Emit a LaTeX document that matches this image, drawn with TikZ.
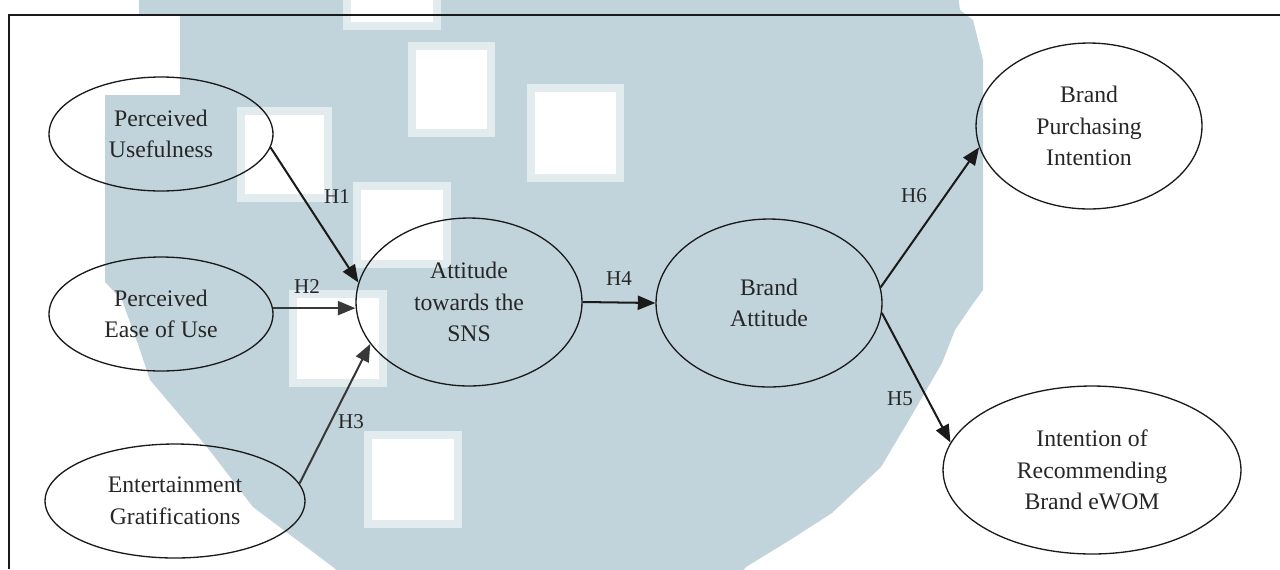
\documentclass[tikz,border=0pt]{standalone}
\usepackage{fontspec}
\setmainfont{Liberation Serif}
\usetikzlibrary{arrows.meta,shapes.geometric}
\definecolor{wm}{HTML}{C2D4DB}
\definecolor{wmedge}{HTML}{E2EBEE}
\definecolor{ink}{HTML}{1A1A1A}
\definecolor{textink}{HTML}{262626}
\definecolor{grayink}{HTML}{383838}
\tikzset{
  construct/.style={ellipse, draw=ink, line width=0.75pt, inner sep=0pt, align=center,
    text=textink, font=\fontsize{13.5}{18}\selectfont},
  hyp/.style={-{Triangle[length=10pt,width=8pt]}, line width=1.15pt, draw=ink, fill=ink},
  hypgray/.style={hyp, draw=grayink, fill=grayink},
  hlabel/.style={font=\fontsize{12}{14}\selectfont, text=textink, inner sep=0pt},
}
\begin{document}
\begin{tikzpicture}[x=0.02cm,y=-0.02cm]
\useasboundingbox (0,0) rectangle (1280,569);
% watermark
\begin{scope}
  \clip (0,0) rectangle (1280,569);
  \fill[wm] (139,-5) -- (958,-5) -- (960,10) -- (973,20) -- (983,60) -- (983,290)
    -- (972,305) -- (955,330) -- (942,363) -- (909,420) -- (881,467) -- (832,513)
    -- (790,540) -- (746,567) -- (740,575) -- (342,575) -- (333,567) -- (253,507)
    -- (207,447) -- (150,380) -- (139,347) -- (122,300) -- (105,282) -- (105,95)
    -- (180,95) -- (180,15) -- (139,15) -- cycle;
  \foreach \a/\b/\c/\d in {343/-10/441/30, 408/42/495/137, 527/84/624/182, 237/107/332/202,
      353/182/451/268, 289/290/387/387, 364/431/462/528} {
    \fill[wmedge] (\a,\b) rectangle (\c,\d);
    \fill[white] (\a+8,\b+8) rectangle (\c-8,\d-8);
  }
\end{scope}
% frame
\draw[ink, line width=0.9pt] (9,569) -- (9,15) -- (1280,15);
% constructs
\node[construct, minimum width=4.48cm, minimum height=2.28cm] (pu) at (161,134) {Perceived\\Usefulness};
\node[construct, minimum width=4.48cm, minimum height=2.28cm] (pe) at (161,314) {Perceived\\Ease of Use};
\node[construct, minimum width=5.2cm, minimum height=2.28cm] (ent) at (175,501) {Entertainment\\Gratifications};
\node[construct, minimum width=4.52cm, minimum height=3.36cm] (att) at (469,302) {Attitude\\towards the\\SNS};
\node[construct, minimum width=4.52cm, minimum height=3.36cm] (ba) at (769,303) {Brand\\Attitude};
\node[construct, minimum width=4.52cm, minimum height=3.32cm] (bp) at (1089,126) {Brand\\Purchasing\\Intention};
\node[construct, minimum width=5.96cm, minimum height=3.36cm] (int) at (1092,470) {Intention of\\Recommending\\Brand eWOM};
% hypotheses
\draw[hyp] (pu.-7) -- (att.170);
\draw[hypgray] (pe.3) -- (pe.3 -| att.west);
\draw[hypgray] (ent.8) -- (att.203);
\draw[hyp] (att.east) -- (ba.west);
\draw[hyp] (ba.-5) -- (int.169);
\draw[hyp] (ba.8) -- (bp.191);
\node[hlabel] (h1) at (337,197) {H1};
\node[hlabel] (h2) at (307,287) {H2};
\node[hlabel] (h3) at (351,422) {H3};
\node[hlabel] (h4) at (619,279) {H4};
\node[hlabel] (h5) at (900,399) {H5};
\node[hlabel] (h6) at (914,196) {H6};
\end{tikzpicture}
\end{document}
